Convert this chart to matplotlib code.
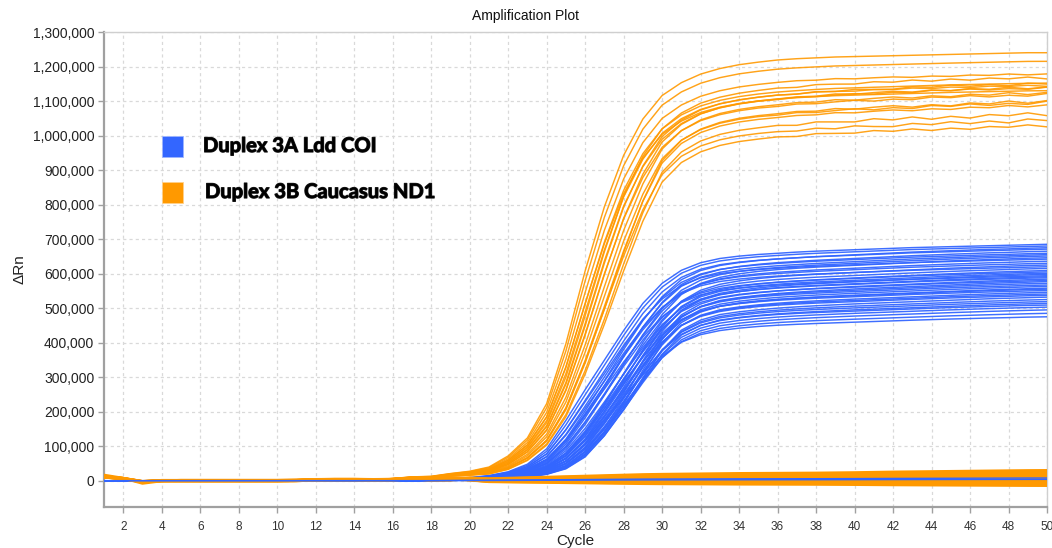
import numpy as np
import matplotlib
matplotlib.use("Agg")
import matplotlib.pyplot as plt
import matplotlib.patheffects as pe
from matplotlib.patches import Rectangle
from matplotlib.ticker import FuncFormatter, MultipleLocator

# ---------------- data ----------------
cycles = np.arange(1, 51)
x_ticks = list(range(2, 51, 2))

# normalised amplification shapes (fraction of plateau), cycles 1..50
orange_shape_early = [0.0] * 15 + [0.003, 0.005, 0.008, 0.012, 0.019, 0.032, 0.058, 0.10, 0.18, 0.32,
                                   0.49, 0.64, 0.76, 0.845, 0.90, 0.93, 0.95, 0.963, 0.972, 0.978,
                                   0.983, 0.986, 0.988, 0.99, 0.991, 0.992, 0.993, 0.994, 0.995, 0.996,
                                   0.997, 0.998, 0.999, 1.0, 1.0]
orange_shape_mid = [0.0] * 15 + [0.002, 0.004, 0.006, 0.01, 0.015, 0.025, 0.045, 0.08, 0.14, 0.25,
                                 0.40, 0.56, 0.70, 0.80, 0.87, 0.91, 0.935, 0.95, 0.96, 0.967,
                                 0.972, 0.976, 0.98, 0.983, 0.985, 0.987, 0.989, 0.991, 0.993, 0.995,
                                 0.996, 0.997, 0.998, 0.999, 1.0]
orange_shape_late = [0.0] * 15 + [0.002, 0.003, 0.005, 0.008, 0.012, 0.019, 0.032, 0.057, 0.10, 0.18,
                                  0.30, 0.44, 0.59, 0.73, 0.84, 0.895, 0.925, 0.943, 0.954, 0.961,
                                  0.966, 0.97, 0.974, 0.977, 0.98, 0.982, 0.984, 0.986, 0.988, 0.99,
                                  0.992, 0.994, 0.996, 0.998, 1.0]

blue_shape_1 = [0.0] * 15 + [0.002, 0.003, 0.005, 0.008, 0.013, 0.022, 0.038, 0.07, 0.135, 0.255,
                             0.385, 0.51, 0.635, 0.75, 0.835, 0.89, 0.922, 0.94, 0.95, 0.957,
                             0.962, 0.967, 0.971, 0.974, 0.977, 0.98, 0.983, 0.986, 0.988, 0.99,
                             0.992, 0.994, 0.996, 0.998, 1.0]
blue_shape_2 = [0.0] * 15 + [0.001, 0.002, 0.004, 0.006, 0.01, 0.016, 0.027, 0.048, 0.088, 0.17,
                             0.29, 0.42, 0.555, 0.68, 0.785, 0.86, 0.9, 0.922, 0.935, 0.944,
                             0.951, 0.956, 0.961, 0.965, 0.969, 0.973, 0.977, 0.981, 0.984, 0.987,
                             0.99, 0.993, 0.995, 0.998, 1.0]
blue_shape_3 = [0.0] * 15 + [0.001, 0.002, 0.003, 0.005, 0.008, 0.012, 0.019, 0.033, 0.06, 0.115,
                             0.21, 0.34, 0.48, 0.62, 0.745, 0.835, 0.885, 0.912, 0.928, 0.939,
                             0.947, 0.953, 0.958, 0.962, 0.966, 0.97, 0.974, 0.978, 0.982, 0.986,
                             0.989, 0.992, 0.995, 0.998, 1.0]
blue_shape_4 = [0.0] * 15 + [0.001, 0.001, 0.002, 0.003, 0.005, 0.008, 0.012, 0.02, 0.035, 0.065,
                             0.13, 0.245, 0.39, 0.555, 0.71, 0.82, 0.875, 0.905, 0.92, 0.931,
                             0.94, 0.947, 0.953, 0.958, 0.963, 0.967, 0.971, 0.975, 0.979, 0.983,
                             0.987, 0.991, 0.994, 0.997, 1.0]

# plateau (dRn at cycle 50) and position between the shapes (0 = earliest) for each amplifying well
orange_plateau = [1240000, 1215000, 1178000, 1168000, 1152000, 1150000, 1145000, 1140000, 1137000,
                  1130000, 1124000, 1118000, 1100000, 1095000, 1088000, 1064000, 1045000, 1030000]
orange_shape_pos = [0.0, 0.15, 0.3, 0.9, 0.5, 1.1, 0.7, 1.3, 1.0,
                    0.4, 1.5, 1.2, 1.9, 1.6, 1.8, 2.0, 1.7, 2.0]
orange_wiggle_id = [0, 0, 1, 2, 0, 1, 2, 1, 2, 0, 1, 2, 1, 2, 1, 2, 1, 2]
orange_wiggle_gain = [0, 0, 0.3, 0.5, 0, -0.5, 0.3, 0.5, -0.4, 0, 0.6, -0.5, 0.7, -0.6, 0.5, 0.8, -0.8, 0.6]

blue_plateau = [685000, 680000, 675000, 671000, 665000, 659000, 655000, 651000, 646000, 642000,
                636000, 630000, 625000, 620000, 615000, 609000, 605000, 601000, 598000, 594000,
                591000, 588000, 584000, 580000, 577000, 572000, 567000, 563000, 558000, 555000,
                551000, 546000, 541000, 537000, 532000, 525000, 519000, 514000, 509000, 503000,
                495000, 485000, 475000]
blue_shape_pos = [0.0, 0.2, 0.9, 0.4, 1.2, 0.6, 1.0, 1.5, 2.0, 0.3,
                  1.3, 0.8, 2.2, 0.5, 1.7, 2.4, 1.1, 1.9, 2.6, 0.7,
                  2.1, 1.4, 2.8, 1.6, 3.0, 2.3, 1.8, 2.5, 2.9, 2.0,
                  1.5, 2.7, 2.2, 1.9, 3.0, 2.8, 2.4, 2.9, 2.1, 2.6,
                  2.7, 2.3, 1.6]

# small plateau wiggles (dRn), cycles 1..50
wiggle_a = [0] * 35 + [0, 3000, -2000, 4000, -3000, 2000, 5000, -4000, 3000, -5000,
                       4000, -3000, 6000, -6000, 2000]
wiggle_b = [0] * 35 + [2000, -3000, 4000, 0, -4000, 5000, -2000, 6000, -5000, 3000,
                       -6000, 4000, -3000, 5000, -8000]

# baseline drift shape of non-amplifying wells (fraction of end offset), cycles 1..50
flat_drift = [0.05] * 18 + [0.1, 0.15, 0.2, 0.25, 0.3, 0.35, 0.4, 0.45, 0.5, 0.55,
                            0.6, 0.63, 0.65, 0.67, 0.69, 0.71, 0.72, 0.73, 0.74, 0.75,
                            0.77, 0.79, 0.82, 0.85, 0.87, 0.89, 0.91, 0.93, 0.95, 0.97,
                            0.99, 1.0]
orange_flat_end = [30000, 26000, 22000, 18000, 14000, 10000, 6000, 2000, -3000, -7000, -11000, -14000]
blue_flat_end = [4000, 8000]

# early-cycle baseline noise of the orange channel, cycles 1..50
orange_early_noise = [11000, 6000, -3000, 0, 0, 0, 0, 0, 0, 0,
                      500, 2500, 3000, 3000, 2500, 3000, 5000, 3000, 6000, 4000] + [0] * 30
orange_dip = [4000, 0, -6000, -2000] + [0] * 13 + [-4000, -8000, 0] + [0] * 30

# ---------------- styling ----------------
BLUE = "#3366FF"
ORANGE = "#FF9900"
plt.rcParams["font.family"] = ["Liberation Sans", "DejaVu Sans"]

fig = plt.figure(figsize=(10.52, 5.48), dpi=100)
ax = fig.add_axes([104 / 1052, 41 / 548, 943 / 1052, 475 / 548])

orange_shapes = np.array([orange_shape_early, orange_shape_mid, orange_shape_late])
blue_shapes = np.array([blue_shape_1, blue_shape_2, blue_shape_3, blue_shape_4])
wiggles = np.array([[0] * 50, wiggle_a, wiggle_b], dtype=float)


def blended(shapes, pos):
    lo = int(np.floor(pos))
    hi = min(lo + 1, len(shapes) - 1)
    w = pos - lo
    return (1 - w) * shapes[lo] + w * shapes[hi]


lw = 1.05
for p, t in zip(blue_plateau, blue_shape_pos):
    ax.plot(cycles, p * blended(blue_shapes, t), color=BLUE, lw=lw, alpha=0.95, zorder=3)

noise = np.array(orange_early_noise, dtype=float)
for p, t, wid, g in zip(orange_plateau, orange_shape_pos, orange_wiggle_id, orange_wiggle_gain):
    y = p * blended(orange_shapes, t) + noise + g * wiggles[wid]
    ax.plot(cycles, y, color=ORANGE, lw=lw, alpha=0.9, zorder=4)

for i, e in enumerate(orange_flat_end):
    y = e * np.array(flat_drift) + noise
    if i == 0:
        y = y + np.array(orange_dip)
    ax.plot(cycles, y, color=ORANGE, lw=2.0, zorder=4)

for e in blue_flat_end:
    ax.plot(cycles, e * np.array(flat_drift), color=BLUE, lw=1.0, zorder=5)

ax.set_xlim(1, 50)
ax.set_ylim(-76000, 1300000)
ax.set_xticks(x_ticks)
ax.yaxis.set_major_locator(MultipleLocator(100000))
ax.yaxis.set_major_formatter(FuncFormatter(lambda v, _: f"{int(round(v)):,}"))

ax.grid(True, color="#d9d9d9", linestyle=(0, (2.5, 2.5)), linewidth=0.9, zorder=0)
ax.set_axisbelow(True)

for s in ["top", "right"]:
    ax.spines[s].set_color("#cfcfcf")
    ax.spines[s].set_linewidth(1.0)
for s in ["left", "bottom"]:
    ax.spines[s].set_color("#a0a0a0")
    ax.spines[s].set_linewidth(1.6)

ax.tick_params(axis="y", direction="out", length=4, width=1, color="#a0a0a0",
               labelsize=10, labelcolor="#222222", pad=3)
ax.tick_params(axis="x", direction="out", length=4, width=1, color="#a0a0a0",
               labelsize=8.5, labelcolor="#333333", pad=6)

ax.set_xlabel("Cycle", fontsize=11, color="#222222", labelpad=1)
ax.set_ylabel("\u0394Rn", fontsize=11, color="#222222", labelpad=4)
fig.text(0.5, 1 - 16 / 548, "Amplification Plot", ha="center", va="center", fontsize=10, color="#111111")

# legend (drawn as in the reference)
fig.patches.append(Rectangle((162 / 1052, 1 - 157 / 548), 21 / 1052, 21 / 548,
                             transform=fig.transFigure, facecolor=BLUE, edgecolor="#9fb6ff", lw=0.6))
fig.patches.append(Rectangle((162 / 1052, 1 - 203 / 548), 21 / 1052, 21 / 548,
                             transform=fig.transFigure, facecolor=ORANGE, edgecolor="#ffd08a", lw=0.6))
eff = [pe.withStroke(linewidth=0.9, foreground="#222222")]
fig.text(203 / 1052, 1 - 146 / 548, "Duplex 3A Ldd COI", ha="left", va="center",
         fontsize=14.5, fontweight="bold", family=["Lato", "DejaVu Sans"], color="#000000", path_effects=eff)
fig.text(205 / 1052, 1 - 192 / 548, "Duplex 3B Caucasus ND1", ha="left", va="center",
         fontsize=14.5, fontweight="bold", family=["Lato", "DejaVu Sans"], color="#000000", path_effects=eff)

fig.savefig("out.png", dpi=100)
